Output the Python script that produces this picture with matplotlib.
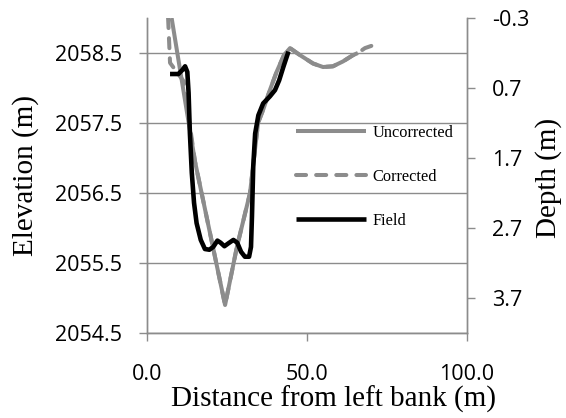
import matplotlib
matplotlib.use("Agg")
import matplotlib.pyplot as plt

# Cross-section survey: distance from left bank (m) vs bed elevation (m)
dist_uncorrected = [7.7, 15.0, 20.6, 24.4, 28.1, 32.2, 34.7, 36.3, 38.4, 40.5, 42.8, 44.7,
                    47.8, 51.9, 55.0, 58.1, 61.25, 64.4, 65.9]
elev_uncorrected = [2059.0, 2056.95, 2055.73, 2054.9, 2055.73, 2056.5, 2057.5, 2057.69, 2057.97,
                    2058.23, 2058.47, 2058.57, 2058.47, 2058.35, 2058.30, 2058.31, 2058.38,
                    2058.47, 2058.50]

dist_corrected = [6.6, 7.2, 11.4, 15.0, 20.6, 24.4, 28.1, 32.2, 34.7, 36.3, 38.4, 40.5, 42.8, 44.7,
                  47.8, 51.9, 55.0, 58.1, 61.25, 64.4, 65.9, 68.1, 71.25]
elev_corrected = [2059.0, 2058.36, 2058.1, 2056.95, 2055.73, 2054.9, 2055.73, 2056.5, 2057.5,
                  2057.69, 2057.97, 2058.23, 2058.47, 2058.57, 2058.47, 2058.35, 2058.30, 2058.31,
                  2058.38, 2058.47, 2058.50, 2058.57, 2058.62]

dist_field = [7.2, 9.8, 11.1, 11.9, 12.6, 13.0, 13.4, 14.0, 14.7, 15.5, 16.8, 18.1, 19.5, 20.7,
              22.0, 23.0, 24.2, 25.4, 27.0, 28.2, 29.4, 30.6, 31.9, 32.5, 32.8, 33.2, 33.8, 34.8,
              36.3, 38.4, 40.0, 41.3, 42.6, 44.2]
elev_field = [2058.2, 2058.2, 2058.26, 2058.31, 2058.23, 2057.93, 2057.36, 2056.79, 2056.36,
              2056.07, 2055.83, 2055.70, 2055.69, 2055.73, 2055.82, 2055.79, 2055.74, 2055.78,
              2055.83, 2055.79, 2055.66, 2055.59, 2055.59, 2055.73, 2056.16, 2056.88, 2057.35,
              2057.61, 2057.78, 2057.88, 2057.97, 2058.11, 2058.30, 2058.52]

x_ticks = [0.0, 50.0, 100.0]
x_tick_labels = ["0.0", "50.0", "100.0"]
elev_ticks = [2054.5, 2055.5, 2056.5, 2057.5, 2058.5]
elev_tick_labels = ["2054.5", "2055.5", "2056.5", "2057.5", "2058.5"]
depth_ticks = [-0.3, 0.7, 1.7, 2.7, 3.7]
depth_tick_labels = ["-0.3", "0.7", "1.7", "2.7", "3.7"]

GRAY = "#8c8c8c"
NUM_FONT = "Open Sans"
TITLE_FONT = "Liberation Serif"

fig = plt.figure(figsize=(5.66, 4.18), dpi=100)
ax = fig.add_axes([0.2597, 0.2033, 0.5654, 0.7536])

ax.plot(dist_uncorrected, elev_uncorrected, color=GRAY, lw=2.9,
        solid_joinstyle="round", solid_capstyle="butt", label="Uncorrected")
ax.plot(dist_corrected, elev_corrected, color=GRAY, lw=2.9, ls=(0, (2.5, 2.5)),
        dash_capstyle="round", dash_joinstyle="round", label="Corrected")
ax.plot(dist_field, elev_field, color="black", lw=3.3,
        solid_joinstyle="round", solid_capstyle="butt", label="Field")

ax.set_xlim(0, 100)
ax.set_ylim(2054.5, 2059.0)
ax.set_xticks(x_ticks)
ax.set_xticklabels(x_tick_labels, fontfamily=NUM_FONT, fontsize=15.5)
ax.set_yticks(elev_ticks)
ax.set_yticklabels(elev_tick_labels, fontfamily=NUM_FONT, fontsize=15.5)
ax.grid(axis="y", color=GRAY, lw=1.0)
ax.set_axisbelow(True)

for side in ("left", "bottom", "right"):
    ax.spines[side].set_color(GRAY)
    ax.spines[side].set_linewidth(1.0)
ax.spines["top"].set_visible(False)
ax.tick_params(axis="both", direction="out", length=6, width=1.0, color=GRAY)
ax.tick_params(axis="y", pad=12)
ax.tick_params(axis="x", pad=16)

ax.set_xlabel("Distance from left bank (m)", fontfamily=TITLE_FONT, fontsize=21)
ax.xaxis.set_label_coords(0.584, -0.168)
ax.set_ylabel("Elevation (m)", fontfamily=TITLE_FONT, fontsize=21, va="center")
ax.yaxis.set_label_coords(-0.378, 0.5)

# Depth axis on the right (reversed)
ax2 = ax.twinx()
ax2.set_ylim(4.2, -0.3)
ax2.set_yticks(depth_ticks)
ax2.set_yticklabels(depth_tick_labels, fontfamily=NUM_FONT, fontsize=15.5)
for side in ("left", "bottom", "right"):
    ax2.spines[side].set_color(GRAY)
    ax2.spines[side].set_linewidth(1.0)
ax2.spines["top"].set_visible(False)
ax2.tick_params(axis="y", direction="out", length=6, width=1.0, color=GRAY, pad=12)
ax2.set_ylabel("Depth (m)", fontfamily=TITLE_FONT, fontsize=21, rotation=90, va="center")
ax2.yaxis.set_label_coords(1.256, 0.492)

leg = ax.legend(loc="upper left", bbox_to_anchor=(0.523, 0.702), bbox_transform=fig.transFigure,
                frameon=False, borderaxespad=0, borderpad=0,
                prop={"family": TITLE_FONT, "size": 11.8},
                handlelength=4.3, handletextpad=0.37, labelspacing=1.72)

fig.savefig("out.png", dpi=100)
